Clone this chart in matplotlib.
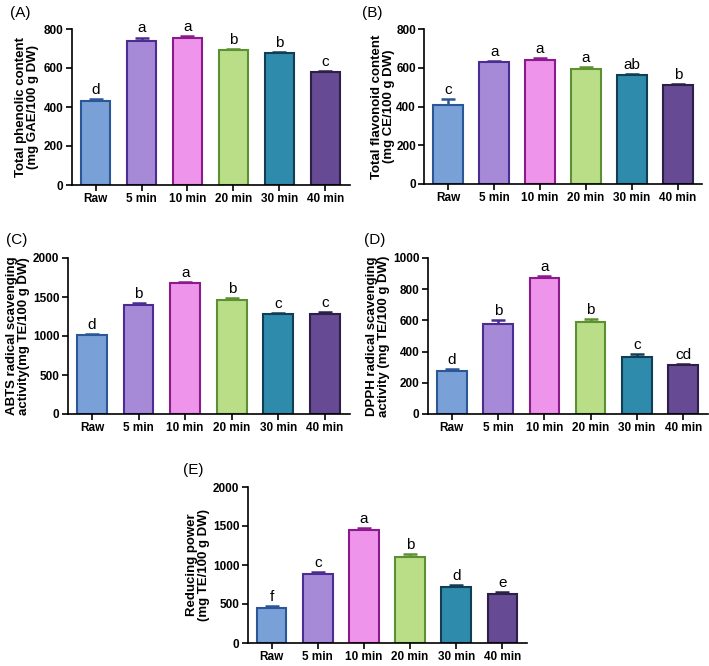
import numpy as np
import matplotlib
matplotlib.use("Agg")
import matplotlib.pyplot as plt

plt.rcParams['font.family'] = ['Liberation Sans', 'DejaVu Sans']

groups = ["Raw", "5 min", "10 min", "20 min", "30 min", "40 min"]
fill_colors = ["#7aa0d8", "#a68ad8", "#ee94ea", "#badd88", "#2f8bac", "#664a93"]
edge_colors = ["#2b5797", "#4b2d91", "#8d1a8d", "#5c9030", "#123e55", "#2c2048"]

# (A) total phenolic content
tpc_mean = [430, 740, 752, 691, 675, 579]
tpc_err = [12, 16, 14, 7, 6, 7]
tpc_sig = ["d", "a", "a", "b", "b", "c"]

# (B) total flavonoid content
tfc_mean = [410, 630, 638, 592, 562, 511]
tfc_err = [27, 5, 12, 10, 4, 7]
tfc_sig = ["c", "a", "a", "a", "ab", "b"]

# (C) ABTS
abts_mean = [1008, 1403, 1675, 1462, 1285, 1277]
abts_err = [20, 16, 14, 20, 9, 27]
abts_sig = ["d", "b", "a", "b", "c", "c"]

# (D) DPPH
dpph_mean = [276, 578, 870, 591, 366, 314]
dpph_err = [14, 22, 14, 18, 21, 9]
dpph_sig = ["d", "b", "a", "b", "c", "cd"]

# (E) reducing power
rp_mean = [446, 882, 1445, 1108, 724, 625]
rp_err = [33, 30, 30, 32, 17, 24]
rp_sig = ["f", "c", "a", "b", "d", "e"]

panels = [
    ("(A)", tpc_mean, tpc_err, tpc_sig, "Total phenolic content\n(mg GAE/100 g DW)", 800, 200,
     [71.7, 185, 278, 156], -0.118, (10, 13)),
    ("(B)", tfc_mean, tfc_err, tfc_sig, "Total flavonoid content\n(mg CE/100 g DW)", 800, 200,
     [424.3, 184, 278, 155], -0.105, (362, 13)),
    ("(C)", abts_mean, abts_err, abts_sig, "ABTS radical scavenging\nactivity(mg TE/100 g DW)", 2000, 500,
     [67.7, 414, 282, 156], -0.135, (6, 240)),
    ("(D)", dpph_mean, dpph_err, dpph_sig, "DPPH radical scavenging\nactivity (mg TE/100 g DW)", 1000, 200,
     [427.7, 414, 280, 156], -0.135, (364, 240)),
    ("(E)", rp_mean, rp_err, rp_sig, "Reducing power\n(mg TE/100 g DW)", 2000, 500,
     [247.7, 643, 279, 156], -0.135, (183, 470)),
]

W, H = 709, 666
fig = plt.figure(figsize=(W / 100, H / 100), dpi=100)

for tag, mean, err, sig, ylab, ymax, ystep, box, lab_x, tag_pos in panels:
    x0, y0, w, h = box
    ax = fig.add_axes([x0 / W, 1 - y0 / H, w / W, h / H])
    x = np.arange(len(groups))
    ax.bar(x, mean, width=0.64, color=fill_colors, edgecolor=edge_colors, linewidth=1.5, zorder=2)
    for xi, m, e, c in zip(x, mean, err, edge_colors):
        ax.errorbar(xi, m, yerr=[[0], [e]], fmt='none', ecolor=c, elinewidth=1.8,
                    capsize=5.2, capthick=1.8, zorder=1)
        ax.annotate(sig[xi], (xi, m + e), xytext=(0, 1.5), textcoords='offset points',
                    ha='center', va='bottom', fontsize=11)

    ax.set_xlim(-0.52, 5.53)
    ax.set_ylim(0, ymax)
    ax.set_yticks(np.arange(0, ymax + 1, ystep))
    ax.set_xticks(x)
    ax.set_xticklabels(groups)
    for s in ['top', 'right']:
        ax.spines[s].set_visible(False)
    for s in ['left', 'bottom']:
        ax.spines[s].set_linewidth(1.2)
    ax.tick_params(axis='both', width=1.2, length=4, labelsize=8.5, pad=2)
    for t in ax.get_xticklabels() + ax.get_yticklabels():
        t.set_fontweight('bold')
    ax.set_ylabel(ylab, fontsize=9.5, fontweight='bold', linespacing=1.0)
    ax.yaxis.set_label_coords(lab_x, 0.5)
    fig.text(tag_pos[0] / W, 1 - tag_pos[1] / H, tag, fontsize=11, ha='left', va='center')

fig.savefig("out.png", dpi=100)
